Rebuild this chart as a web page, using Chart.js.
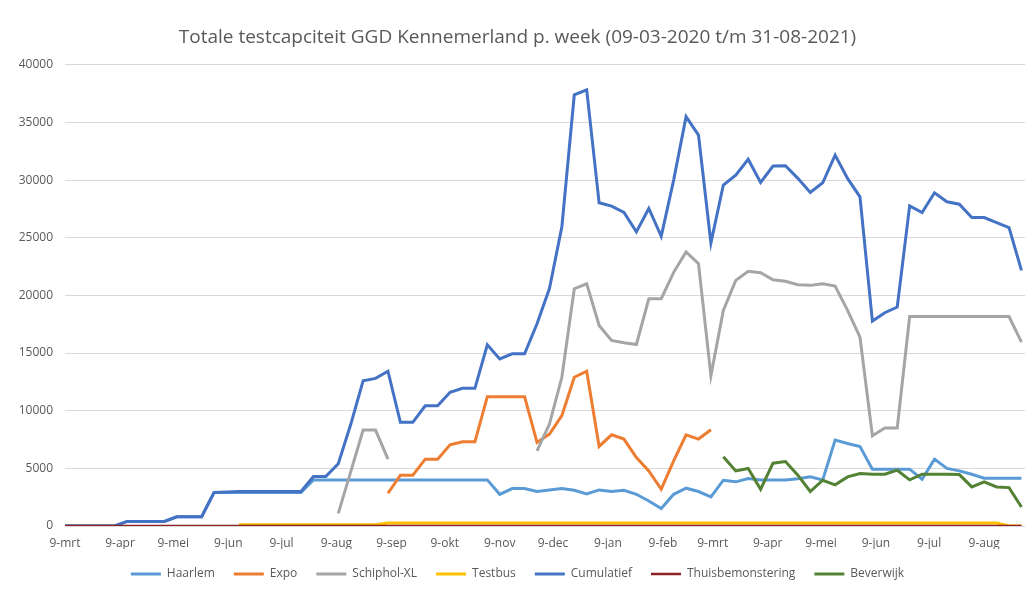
<!DOCTYPE html>
<html lang="nl">
<head>
<meta charset="utf-8">
<title>Totale testcapaciteit GGD Kennemerland</title>
<script src="https://cdn.jsdelivr.net/npm/chart.js@4.4.1/dist/chart.umd.min.js"></script>
<style>
  html, body { margin: 0; padding: 0; background: #fff; }
  canvas { display: block; }
</style>
</head>
<body>
<canvas id="chart" width="1032" height="590"></canvas>
<script>
// ── Data (weekly, starting Monday 09-03-2020) ───────────────────────────────
const firstWeek = '2020-03-09';
const weekCount = 78;

const monthTickDates  = ['2020-03-09','2020-04-09','2020-05-09','2020-06-09','2020-07-09','2020-08-09',
                         '2020-09-09','2020-10-09','2020-11-09','2020-12-09','2021-01-09','2021-02-09',
                         '2021-03-09','2021-04-09','2021-05-09','2021-06-09','2021-07-09','2021-08-09'];
const monthTickLabels = ['9-mrt','9-apr','9-mei','9-jun','9-jul','9-aug','9-sep','9-okt','9-nov',
                         '9-dec','9-jan','9-feb','9-mrt','9-apr','9-mei','9-jun','9-jul','9-aug'];

const haarlem = [
  0, 0, 0, 0, 0, 400, 400, 400, 400, 800, 800, 800,
  2900, 2900, 2900, 2900, 2900, 2900, 2900, 2900,
  4000, 4000, 4000, 4000, 4000, 4000, 4000, 4000, 4000, 4000, 4000, 4000, 4000, 4000, 4000,
  2750, 3250, 3250, 2990, 3130, 3250, 3100, 2780, 3130, 2990, 3100, 2750, 2170, 1510, 2750,
  3280, 2990, 2520, 3970, 3830, 4120, 4000, 4000, 4000, 4100, 4260, 4000, 7450, 7160, 6900,
  4930, 4930, 4930, 4930, 4060, 5800, 4990, 4780, 4490, 4150, 4150, 4150, 4150
];

const expo = [
  null, null, null, null, null, null, null, null, null, null, null, null, null,
  null, null, null, null, null, null, null, null, null, null, null, null, null,
  2840, 4410, 4410, 5800, 5800, 7040, 7300, 7300, 11220, 11220, 11220, 11220,
  7250, 7970, 9570, 12900, 13420, 6900, 7910, 7540, 5940, 4780, 3190, 5650, 7910, 7540, 8350,
  null, null, null, null, null, null, null, null, null, null, null, null, null,
  null, null, null, null, null, null, null, null, null, null, null, null
];

const schiphol = [
  null, null, null, null, null, null, null, null, null, null, null,
  null, null, null, null, null, null, null, null, null, null, null,
  1100, 4700, 8320, 8320, 5800,
  null, null, null, null, null, null, null, null, null, null, null,
  6520, 8840, 12900, 20580, 21010, 17390, 16090, 15900, 15740, 19710, 19710, 22000,
  23770, 22750, 13040, 18700, 21300, 22090, 21970, 21360, 21220, 20930, 20870, 21010,
  20810, 18700, 16380, 7830, 8500, 8500,
  18170, 18170, 18170, 18170, 18170, 18170, 18170, 18170, 18170, 15940
];

const testbus = [
  null, null, null, null, null, null, null, null, null, null, null, null, null, null,
  100, 100, 100, 100, 100, 100, 100, 100, 100, 100, 100, 100,
  250, 250, 250, 250, 250, 250, 250, 250, 250, 250, 250, 250, 250, 250, 250, 250, 250,
  250, 250, 250, 250, 250, 250, 250, 250, 250, 250, 250, 250, 250, 250, 250, 250, 250,
  250, 250, 250, 250, 250, 250, 250, 250, 250, 250, 250, 250, 250, 250, 250, 250,
  0, 0
];

const cumulatief = [
  0, 0, 0, 0, 0, 400, 400, 400, 400, 800, 800, 800,
  2900, 2950, 3000, 3000, 3000, 3000, 3000, 3000,
  4300, 4300, 5400, 8800, 12600, 12800, 13420,
  8990, 8990, 10430, 10430, 11600, 11940, 11940, 15710, 14490, 14930, 14930,
  17540, 20600, 25940, 37390, 37830, 28030, 27740, 27190, 25510, 27540, 25130, 30000,
  35500, 33900, 24550, 29570, 30430, 31800, 29800, 31220, 31250, 30150, 28930, 29770,
  32170, 30150, 28550, 17770, 18500, 18990, 27770, 27190, 28900, 28120, 27910, 26750,
  26750, 26320, 25880, 22170
];

const thuisbemonstering = [
  0, 0, 0, 0, 0, 0, 0, 0, 0, 0, 0, 0, 0, 0, 0, 0, 0, 0, 0, 0, 0, 0, 0, 0, 0, 0,
  0, 0, 0, 0, 0, 0, 0, 0, 0, 0, 0, 0, 0, 0, 0, 0, 0, 0, 0, 0, 0, 0, 0, 0, 0, 0,
  0, 0, 0, 0, 0, 0, 0, 0, 0, 0, 0, 0, 0, 0, 0, 0, 0, 0, 0, 0, 0, 0, 0, 0, 0, 0
];

const beverwijk = [
  null, null, null, null, null, null, null, null, null, null, null, null, null, null,
  null, null, null, null, null, null, null, null, null, null, null, null, null, null,
  null, null, null, null, null, null, null, null, null, null, null, null, null, null,
  null, null, null, null, null, null, null, null, null, null, null,
  6000, 4780, 4990, 3190, 5450, 5590, 4410, 2990, 3970, 3570, 4260, 4550, 4490,
  4490, 4840, 4000, 4490, 4490, 4490, 4460, 3390, 3830, 3390, 3330, 1650
];

// ── Helpers: dates → day offsets on a linear axis ───────────────────────────
const DAY = 24 * 3600 * 1000;
const t0 = Date.parse(firstWeek + 'T00:00:00Z');
const dayOf = (iso) => Math.round((Date.parse(iso + 'T00:00:00Z') - t0) / DAY);

const weekDays = [];
for (let i = 0; i < weekCount; i++) weekDays.push(i * 7);
const tickDays = monthTickDates.map(dayOf);

// ── Styling ─────────────────────────────────────────────────────────────────
const FONT = "'Open Sans', 'DejaVu Sans', sans-serif";
const TEXT = '#595959';

function line(label, data, color, order, width = 3) {
    return {
        label, data, order,
        borderColor: color,
        backgroundColor: color,
        borderWidth: width,
        pointRadius: 0,
        pointHoverRadius: 0,
        tension: 0,
        spanGaps: false
    };
}

new Chart(document.getElementById('chart'), {
    type: 'line',
    data: {
        labels: weekDays,
        datasets: [
            line('Haarlem',           haarlem,           '#5B9BD5', 7),
            line('Expo',              expo,              '#ED7D31', 6),
            line('Schiphol-XL',       schiphol,          '#A5A5A5', 5),
            line('Testbus',           testbus,           '#FFC000', 4),
            line('Cumulatief',        cumulatief,        '#4472C4', 3),
            line('Thuisbemonstering', thuisbemonstering, '#8E1F22', 2, 2.5),
            line('Beverwijk',         beverwijk,         '#548235', 1)
        ]
    },
    options: {
        responsive: false,
        animation: false,
        layout: { padding: { left: 10, right: 7, top: 0, bottom: 0 } },
        plugins: {
            title: {
                display: true,
                text: 'Totale testcapciteit GGD Kennemerland p. week (09-03-2020 t/m 31-08-2021)',
                color: TEXT,
                font: { family: FONT, size: 19, weight: 'normal', lineHeight: 1.2 },
                padding: { top: 26, bottom: 16 }
            },
            legend: {
                position: 'bottom',
                labels: {
                    color: TEXT,
                    font: { family: FONT, size: 12 },
                    usePointStyle: true,
                    pointStyle: 'line',
                    pointStyleWidth: 30,
                    padding: 19,
                    sort: (a, b) => a.datasetIndex - b.datasetIndex
                }
            },
            tooltip: { enabled: false }
        },
        scales: {
            x: {
                type: 'linear',
                min: 0,
                max: 541,
                grid: { display: false, drawTicks: false },
                border: { display: false },
                afterBuildTicks: (scale) => { scale.ticks = tickDays.map(v => ({ value: v })); },
                afterFit: (scale) => { scale.height = 23; },
                ticks: {
                    autoSkip: false,
                    maxRotation: 0,
                    padding: 10,
                    color: TEXT,
                    font: { family: FONT, size: 12 },
                    callback: (value, index) => monthTickLabels[index]
                }
            },
            y: {
                min: 0,
                max: 40000,
                grid: { color: '#D9D9D9', lineWidth: 1, drawTicks: false },
                border: { display: false },
                afterFit: (scale) => { scale.width = 55; },
                ticks: {
                    stepSize: 5000,
                    padding: 12,
                    color: TEXT,
                    font: { family: FONT, size: 12 },
                    callback: (value) => String(value)
                }
            }
        }
    }
});
</script>
</body>
</html>
